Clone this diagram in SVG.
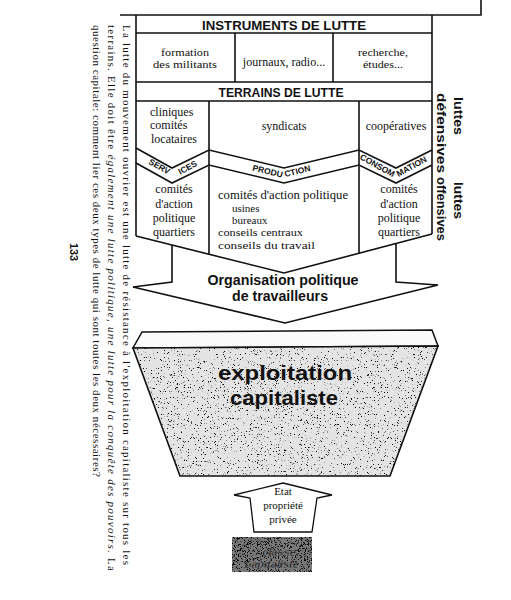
<svg xmlns="http://www.w3.org/2000/svg" width="511" height="600" viewBox="0 0 511 600">
<defs>
<filter id="stip" x="0" y="0" width="100%" height="100%" color-interpolation-filters="sRGB">
<feTurbulence type="fractalNoise" baseFrequency="1.3" numOctaves="2" seed="7" result="n"/>
<feColorMatrix in="n" type="matrix" values="0 0 0 0 0  0 0 0 0 0  0 0 0 0 0  -10 0 0 0 3.5" result="a"/>
<feComposite in="a" in2="SourceGraphic" operator="in"/>
</filter>
<filter id="stip2" x="0" y="0" width="100%" height="100%" color-interpolation-filters="sRGB">
<feTurbulence type="fractalNoise" baseFrequency="1.3" numOctaves="2" seed="3" result="n"/>
<feColorMatrix in="n" type="matrix" values="0 0 0 0 0  0 0 0 0 0  0 0 0 0 0  -9 0 0 0 4.1" result="a"/>
<feComposite in="a" in2="SourceGraphic" operator="in"/>
</filter>
<style>
.ln{fill:none;stroke:#111;stroke-width:1.6;stroke-linejoin:miter}
.hd{font-family:"Liberation Sans",Arial,sans-serif;font-weight:bold;fill:#111}
.sf{font-family:"Liberation Serif","Times New Roman",serif;fill:#111;font-size:11px}
.cs{font-size:12px}
.bd{font-family:"Liberation Sans",Arial,sans-serif;font-weight:bold;fill:#111;font-size:8.5px}
.c{text-anchor:middle}
</style>
</defs>

<g id="paragraph">
<text class="sf" transform="translate(123,25) rotate(90)" x="0" y="0" textLength="540" lengthAdjust="spacing">La lutte du mouvement ouvrier est une lutte de résistance à l'exploitation capitaliste sur tous les</text>
<text class="sf" transform="translate(108,25) rotate(90)" x="0" y="0" textLength="546" lengthAdjust="spacing">terrains. Elle doit être <tspan font-style="italic">également une lutte politique, une lutte pour la conquête des pouvoirs.</tspan> La</text>
<text class="sf" transform="translate(93,25) rotate(90)" x="0" y="0" textLength="452" lengthAdjust="spacing">question capitale: comment lier ces deux types de lutte qui sont toutes les deux nécessaires?</text>
<text class="hd" transform="translate(70,243) rotate(90)" x="0" y="0" font-size="10" textLength="18" lengthAdjust="spacingAndGlyphs">133</text>
</g>

<g id="frame">
<polyline class="ln" points="120,15 481,15 481,0"/>
</g>

<g id="instruments">
<path class="ln" d="M136,15 V236 M432,15 V234 M136,33 H432 M136,82 H432 M136,101 H432 M235,33 V82 M333,33 V82"/>
<text class="hd c" x="284" y="30" font-size="13" textLength="164" lengthAdjust="spacingAndGlyphs">INSTRUMENTS DE LUTTE</text>
<text class="sf c" x="185" y="56" textLength="48" lengthAdjust="spacingAndGlyphs">formation</text>
<text class="sf c" x="185" y="68" textLength="64" lengthAdjust="spacingAndGlyphs">des militants</text>
<text class="sf cs c" x="284" y="66">journaux, radio...</text>
<text class="sf c" x="383" y="56" textLength="50" lengthAdjust="spacingAndGlyphs">recherche,</text>
<text class="sf c" x="383" y="68" textLength="40" lengthAdjust="spacingAndGlyphs">études...</text>
</g>

<g id="terrains">
<text class="hd c" x="281" y="97" font-size="13" textLength="125" lengthAdjust="spacingAndGlyphs">TERRAINS DE LUTTE</text>
<path class="ln" d="M209,101 V254 M359,101 V253"/>
<text class="sf cs" x="150" y="116">cliniques</text>
<text class="sf cs" x="150" y="129">comités</text>
<text class="sf cs" x="151" y="143">locataires</text>
<text class="sf cs c" x="284" y="130">syndicats</text>
<text class="sf cs c" x="396" y="130">coopératives</text>
</g>

<g id="band">
<polyline class="ln" points="136,148 172,168 209,150 284,168 359,150 396,168 432,150"/>
<polyline class="ln" points="136,163 172,183 209,165 284,183 359,165 396,183 432,165"/>
<text class="bd c" transform="translate(158,169) rotate(29)">SERV</text>
<text class="bd c" transform="translate(189,170) rotate(-29)">ICES</text>
<text class="bd c" transform="translate(267,174) rotate(13.5)">PRODU</text>
<text class="bd c" transform="translate(298,174) rotate(-13.5)">CTION</text>
<text class="bd c" transform="translate(376,168) rotate(29)">CONSOM</text>
<text class="bd c" transform="translate(413,169) rotate(-29)">MATION</text>
</g>

<g id="services">
<text class="sf cs c" x="174" y="193">comités</text>
<text class="sf cs c" x="174" y="208">d'action</text>
<text class="sf cs c" x="174" y="222">politique</text>
<text class="sf cs c" x="174" y="236">quartiers</text>
</g>

<g id="production">
<text class="sf cs" x="218" y="199" textLength="130" lengthAdjust="spacingAndGlyphs">comités d'action politique</text>
<text class="sf" x="232" y="212">usines</text>
<text class="sf" x="232" y="224">bureaux</text>
<text class="sf" x="218" y="236" textLength="85" lengthAdjust="spacingAndGlyphs">conseils centraux</text>
<text class="sf" x="218" y="249" textLength="97" lengthAdjust="spacingAndGlyphs">conseils du travail</text>
</g>

<g id="consommation">
<text class="sf cs c" x="399" y="193">comités</text>
<text class="sf cs c" x="399" y="208">d'action</text>
<text class="sf cs c" x="399" y="222">politique</text>
<text class="sf cs c" x="399" y="236">quartiers</text>
</g>

<g id="luttes">
<text class="hd" transform="translate(454,97) rotate(90)" font-size="13" textLength="38" lengthAdjust="spacingAndGlyphs">luttes</text>
<text class="hd" transform="translate(437,93) rotate(90)" font-size="13" textLength="80" lengthAdjust="spacingAndGlyphs">défensives</text>
<text class="hd" transform="translate(454,182) rotate(90)" font-size="13" textLength="37" lengthAdjust="spacingAndGlyphs">luttes</text>
<text class="hd" transform="translate(437,177) rotate(90)" font-size="13" textLength="64" lengthAdjust="spacingAndGlyphs">offensives</text>
</g>

<g id="connectors">
<polyline class="ln" points="136,236 284,273 432,234"/>
<polyline class="ln" points="172,245 172,282 133,287 285,323 438,285 396,282 396,244"/>
</g>

<g id="organisation">
<text class="hd c" x="283" y="285" font-size="14" textLength="151" lengthAdjust="spacingAndGlyphs">Organisation politique</text>
<text class="hd c" x="280" y="301" font-size="14" textLength="96" lengthAdjust="spacingAndGlyphs">de travailleurs</text>
</g>

<g id="exploitation">
<polygon points="142,332 432,330 438,346 133,348" fill="#fafafa" stroke="#111" stroke-width="1.5"/>
<polygon points="133,348 438,346 390,476 180,476" fill="#e4e4e4"/>
<polygon points="133,348 438,346 390,476 180,476" fill="#333" filter="url(#stip)"/>
<polygon points="133,348 438,346 390,476 180,476" fill="none" stroke="#111" stroke-width="1.6"/>
<text class="hd c" x="285" y="380" font-size="20" fill="#222" textLength="134" lengthAdjust="spacingAndGlyphs">exploitation</text>
<text class="hd c" x="284" y="405" font-size="20" fill="#222" textLength="108" lengthAdjust="spacingAndGlyphs">capitaliste</text>
</g>

<g id="etat">
<polygon points="283,483 332,495 317,498 312,532 254,532 250,498 234,495" fill="#fff" stroke="#111" stroke-width="1.3"/>
<text class="sf c" x="283" y="495" font-size="10">Etat</text>
<text class="sf c" x="283" y="509" font-size="10">propriété</text>
<text class="sf c" x="283" y="523" font-size="10">privée</text>
</g>

<g id="classe">
<rect x="232" y="537" width="80" height="35" fill="#7a7a7a"/>
<rect x="232" y="537" width="80" height="35" fill="#111" filter="url(#stip2)"/>
<text class="hd c" x="279" y="556" font-size="11" font-style="italic" fill="#1a1a1a" stroke="#999" stroke-width="0.4">classe</text>
<text class="hd c" x="272" y="568" font-size="11" font-style="italic" fill="#1a1a1a" stroke="#999" stroke-width="0.4">capitaliste</text>
</g>
</svg>
